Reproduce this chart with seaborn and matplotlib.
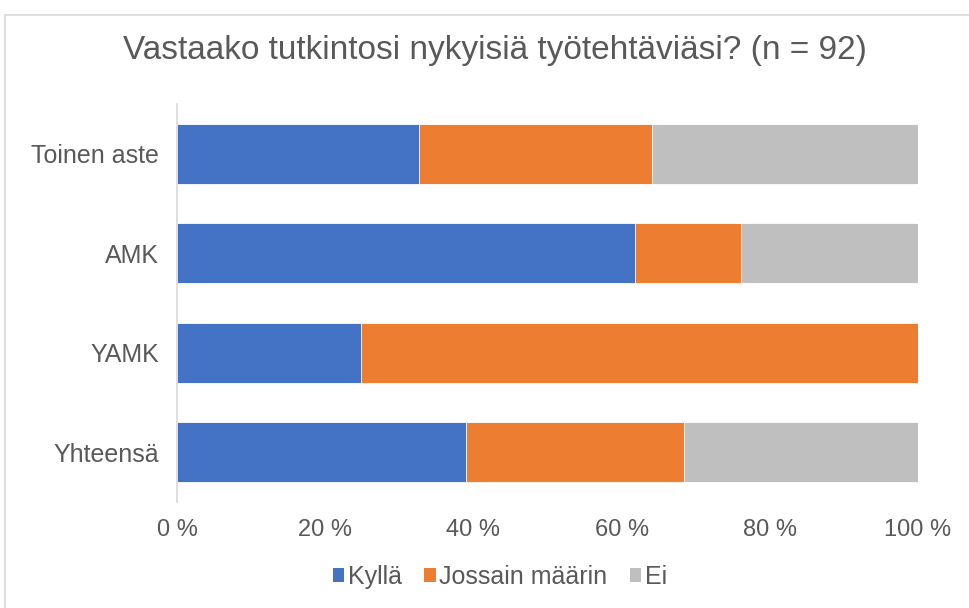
import matplotlib
matplotlib.use("Agg")
import matplotlib.pyplot as plt
from matplotlib.patches import Rectangle, Patch
import numpy as np
import seaborn as sns

categories = ["Toinen aste", "AMK", "YAMK", "Yhteensä"]
kylla = [32.6, 61.8, 24.8, 39.0]
jossain = [31.5, 14.3, 75.2, 29.4]
ei = [35.9, 23.9, 0.0, 31.6]
series_names = ["Kyllä", "Jossain määrin", "Ei"]
colors = ["#4472C4", "#ED7D31", "#BFBFBF"]
xticks = [0, 20, 40, 60, 80, 100]

sns.set_theme(style="white")
plt.rcParams["font.family"] = ["Liberation Sans", "DejaVu Sans"]
text_col = "#595959"

fig = plt.figure(figsize=(9.7, 6.08), dpi=100)
ax = fig.add_axes([177 / 970, 1 - 502 / 608, (918 - 177) / 970, (502 - 104) / 608])

# stacked bars: draw cumulative totals back to front
c1 = np.array(kylla)
c2 = c1 + np.array(jossain)
c3 = c2 + np.array(ei)
for vals, col in [(c3, colors[2]), (c2, colors[1]), (c1, colors[0])]:
    sns.barplot(x=vals, y=categories, orient="h", color=col, width=0.6,
                saturation=1, edgecolor="white", linewidth=0.6, ax=ax)

ax.set_xlim(0, 100)
ax.set_ylim(3.5, -0.5)
ax.set_xticks(xticks)
ax.set_xticklabels([f"{t} %" for t in xticks])
ax.set_xlabel("")
ax.set_ylabel("")
ax.tick_params(axis="x", colors=text_col, labelsize=17, length=0, pad=12)
ax.tick_params(axis="y", colors=text_col, labelsize=18, length=0, pad=13)
for s in ["top", "right", "bottom"]:
    ax.spines[s].set_visible(False)
ax.spines["left"].set_color("#D9D9D9")
ax.spines["left"].set_linewidth(1.2)

fig.text(495 / 970, 1 - 50 / 608, "Vastaako tutkintosi nykyisiä työtehtäviäsi? (n = 92)",
         ha="center", va="center", fontsize=24, color=text_col)

handles = [Patch(facecolor=c, edgecolor="none") for c in colors]
fig.legend(handles, series_names, loc="center", bbox_to_anchor=(500 / 970, 1 - 577 / 608),
           ncol=3, frameon=False, fontsize=18, labelcolor=text_col,
           handlelength=0.45, handleheight=0.45, handletextpad=0.15, columnspacing=0.9)

fig.patches.append(Rectangle((5 / 970, -0.05), 1.1, 1 - 15 / 608 + 0.05,
                             transform=fig.transFigure, fill=False,
                             edgecolor="#D9D9D9", linewidth=1.2))

fig.savefig("out.png", dpi=100, facecolor="white")
